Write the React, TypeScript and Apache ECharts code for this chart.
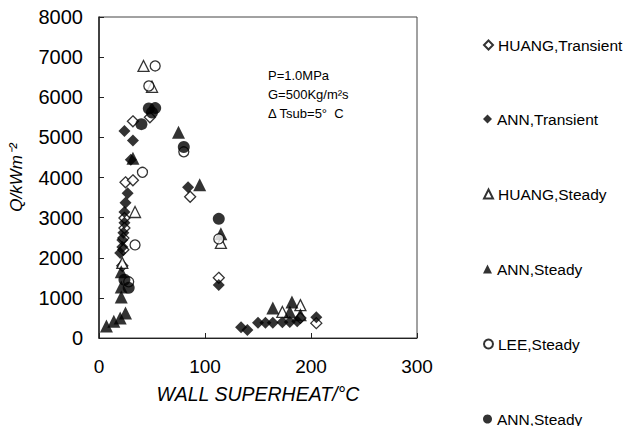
import React, { useEffect, useRef } from "react";
import * as echarts from "echarts";

const xTicks = [0, 100, 200, 300];
const yTicks = [0, 1000, 2000, 3000, 4000, 5000, 6000, 7000, 8000];

const huangTransient = [
  [32, 5400], [48, 5500], [25, 3880], [32, 3930], [86, 3520], [113, 1500],
  [24, 2990], [24, 2740], [23, 2490], [23, 2200], [22, 1800], [205, 370], [190, 500],
];
const annTransient = [
  [24, 5160], [32, 4920], [30, 4440], [27, 3610], [25, 3370], [24, 3140],
  [24, 2870], [23, 2620], [22, 2440], [22, 2270], [20, 2120], [84, 3760], [113, 1320],
  [134, 270], [140, 200], [150, 380], [157, 380], [164, 380], [173, 390],
  [180, 400], [187, 420], [205, 520],
];
const huangSteady = [
  [42, 6780], [50, 6260], [34, 3140], [22, 1870], [115, 2370], [173, 650], [190, 820],
];
const annSteady = [
  [75, 5130], [32, 4480], [95, 3820], [115, 2600], [21, 1650], [21, 1270], [21, 1020],
  [7, 300], [14, 420], [20, 500], [25, 620], [164, 750], [182, 900], [180, 650], [190, 580],
];
const leeSteady = [
  [53, 6780], [47, 6280], [41, 4130], [34, 2320], [28, 1400], [80, 4640], [113, 2470],
];
const annSteadyCircle = [
  [47, 5720], [53, 5730], [50, 5620], [40, 5330], [80, 4760], [113, 2970], [24, 1450], [28, 1250],
];

const seriesNames = [
  "HUANG,Transient",
  "ANN,Transient",
  "HUANG,Steady",
  "ANN,Steady",
  "LEE,Steady",
  "ANN,Steady ",
];

const annotationLines = ["P=1.0MPa", "G=500Kg/m\u00B2s", "\u0394 Tsub=5\u00B0  C"];

const FONT = "'Liberation Sans', Arial, sans-serif";

export default function App() {
  const ref = useRef<HTMLDivElement>(null);
  useEffect(() => {
    if (!ref.current) return;
    const chart = echarts.init(ref.current, undefined, { renderer: "svg" });
    const open = { color: "#fff", borderColor: "#000", borderWidth: 1.3 };
    const filled = { color: "#000" };
    const mk = (name: string, data: number[][], symbol: string, size: number, style: any) => ({
      name,
      type: "scatter",
      data,
      symbol,
      symbolSize: size,
      itemStyle: style,
      z: 3,
    });
    const legendCenters = [46, 120, 195, 270, 345, 420];
    chart.setOption({
      animation: false,
      backgroundColor: "#fff",
      textStyle: { fontFamily: FONT },
      grid: {
        left: 97,
        top: 17,
        right: 217,
        bottom: 96,
        show: true,
        borderColor: "#444",
        borderWidth: 1,
      },
      xAxis: {
        type: "value",
        min: xTicks[0],
        max: xTicks[xTicks.length - 1],
        interval: 100,
        splitLine: { show: false },
        axisLine: { onZero: false, lineStyle: { color: "#222", width: 1 } },
        axisTick: { inside: true, length: 5, lineStyle: { color: "#222" } },
        axisLabel: { color: "#000", fontSize: 19, margin: 19, fontFamily: FONT },
        name: "WALL SUPERHEAT/\u00B0C",
        nameLocation: "middle",
        nameGap: 46,
        nameMoveOverlap: false,
        nameTextStyle: { color: "#000", fontSize: 19.5, fontStyle: "italic", fontFamily: FONT },
      },
      yAxis: {
        type: "value",
        min: yTicks[0],
        max: yTicks[yTicks.length - 1],
        interval: 1000,
        splitLine: { show: false },
        axisLine: { onZero: false, lineStyle: { color: "#222", width: 1.5 } },
        axisTick: { inside: true, length: 5, lineStyle: { color: "#222" } },
        axisLabel: {
          color: "#000",
          fontSize: 20,
          margin: 16,
          fontFamily: FONT,
          formatter: (v: number) => String(v),
        },
        name: "Q/kWm\u207B\u00B2",
        nameLocation: "middle",
        nameRotate: 90,
        nameGap: 74,
        nameMoveOverlap: false,
        nameTextStyle: { color: "#000", fontSize: 17, fontStyle: "italic", fontFamily: FONT },
      },
      legend: seriesNames.map((n, i) => ({
        orient: "vertical",
        left: 478,
        top: legendCenters[i] - 14,
        itemWidth: 9,
        itemHeight: 9,
        textStyle: { color: "#000", fontSize: 15.5, fontFamily: FONT },
        data: [n],
      })),
      graphic: annotationLines.map((t, i) => ({
        type: "text",
        left: 268,
        top: 69 + i * 19,
        style: { text: t, fill: "#000", font: `13px ${FONT}` },
      })),
      series: [
        mk(seriesNames[0], huangTransient, "diamond", 11, open),
        mk(seriesNames[1], annTransient, "diamond", 12, filled),
        mk(seriesNames[2], huangSteady, "triangle", 11, open),
        mk(seriesNames[3], annSteady, "triangle", 13, filled),
        mk(seriesNames[4], leeSteady, "circle", 10, open),
        mk(seriesNames[5], annSteadyCircle, "circle", 12, filled),
      ],
    });
    return () => chart.dispose();
  }, []);
  return <div ref={ref} style={{ width: 634, height: 434, margin: -8 }} />;
}
